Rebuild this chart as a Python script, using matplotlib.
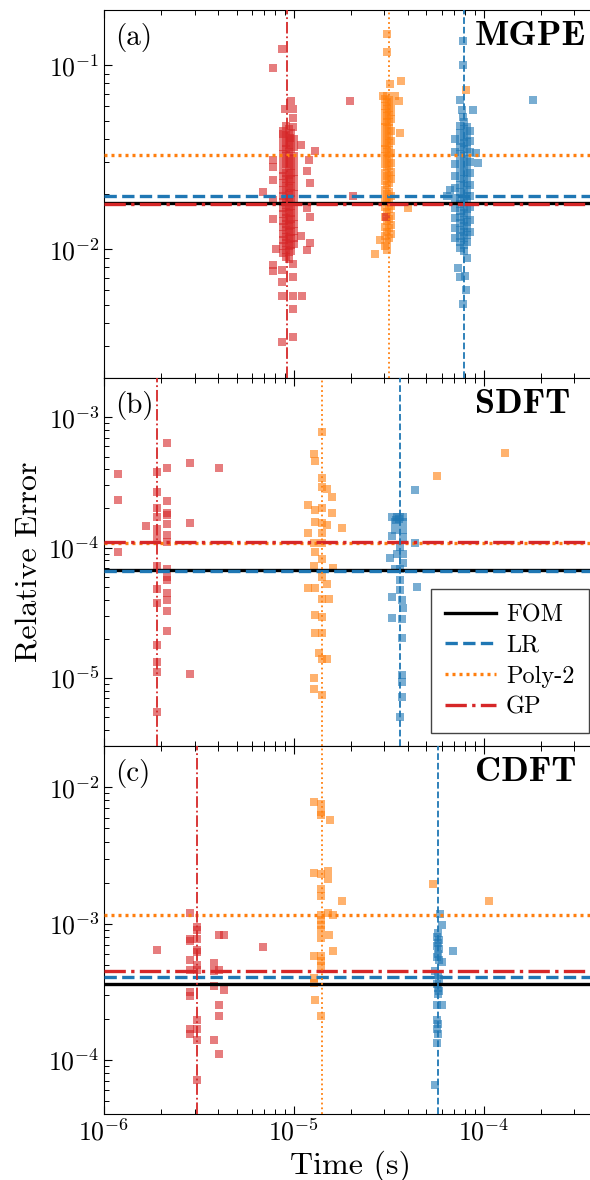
import matplotlib
matplotlib.use("Agg")
import matplotlib.pyplot as plt
from matplotlib.ticker import NullFormatter

plt.rcParams["font.family"] = ["cmr10"]
plt.rcParams["mathtext.fontset"] = "cm"
plt.rcParams["axes.formatter.use_mathtext"] = True

C_LR = "#1f77b4"
C_POLY = "#ff7f0e"
C_GP = "#d62728"

panel_tags = ["(a)", "(b)", "(c)"]
problem_names = ["MGPE", "SDFT", "CDFT"]
y_limits = [(2e-3, 2e-1), (3e-6, 2e-3), (4e-5, 2e-2)]

# Mean relative error of the full-order model per problem
fom_err = [0.0178, 6.7e-5, 3.61e-4]
# Mean query time and mean relative error of each surrogate, per problem
lr_time = [7.85e-5, 3.64e-5, 5.75e-5]
lr_err = [0.0196, 6.6e-5, 4.04e-4]
poly_time = [3.16e-5, 1.40e-5, 1.40e-5]
poly_err = [0.0325, 1.09e-4, 1.16e-3]
gp_time = [9.24e-6, 1.895e-6, 3.09e-6]
gp_err = [0.0176, 1.10e-4, 4.5e-4]

# ---- MGPE samples ----
gp_a_t = ([8.7e-6, 7.8e-6, 9.7e-6, 9.0e-6, 9.9e-6, 9.9e-6, 9.9e-6, 8.8e-6, 9.6e-6, 1.09e-5,
           1.30e-5, 1.20e-5, 7.8e-6, 7.8e-6, 1.18e-5, 7.8e-6, 1.21e-5, 6.9e-6, 7.8e-6, 1.18e-5,
           1.21e-5, 7.8e-6, 1.09e-5, 1.21e-5, 8.1e-6, 1.18e-5, 7.8e-6, 7.8e-6, 8.7e-6, 8.7e-6,
           9.9e-6, 9.9e-6, 8.7e-6, 9.9e-6, 1.11e-5, 9.9e-6, 9.9e-6, 8.7e-6, 1.98e-5, 2.06e-5,
           3.05e-5]
          + [8.8e-6] * 19 + [9.1e-6] * 20 + [9.4e-6] * 20 + [9.7e-6] * 18 + [1.0e-5] * 15)
gp_a_e = [0.123, 0.0968, 0.0643, 0.0577, 0.0577, 0.0517, 0.0461, 0.0424, 0.0403, 0.0368,
          0.0343, 0.0306, 0.0306, 0.0282, 0.0267, 0.0238, 0.0229, 0.0206, 0.0186, 0.0167,
          0.0151, 0.0146, 0.0118, 0.0109, 0.0101, 0.0099, 0.00828, 0.00764, 0.0077, 0.00667,
          0.0071, 0.0083, 0.00562, 0.00562, 0.00562, 0.00477, 0.00334, 0.00313, 0.0640, 0.0195,
          0.0151,
          0.044, 0.040, 0.036, 0.033, 0.030, 0.027, 0.025, 0.023, 0.021, 0.0195, 0.018, 0.0167,
          0.0155, 0.0143, 0.0132, 0.0122, 0.0113, 0.0104, 0.0096,
          0.047, 0.042, 0.038, 0.035, 0.032, 0.029, 0.026, 0.024, 0.022, 0.020, 0.0188, 0.0174,
          0.016, 0.0148, 0.0137, 0.0127, 0.0117, 0.0108, 0.0099, 0.0091,
          0.045, 0.041, 0.037, 0.034, 0.031, 0.028, 0.0255, 0.0235, 0.0215, 0.0198, 0.0183,
          0.017, 0.0157, 0.0145, 0.0134, 0.0124, 0.0114, 0.0105, 0.0097, 0.0089,
          0.043, 0.039, 0.035, 0.0315, 0.0285, 0.026, 0.024, 0.022, 0.0203, 0.0187, 0.0172,
          0.0158, 0.0146, 0.0135, 0.0125, 0.0115, 0.0106, 0.0098,
          0.040, 0.036, 0.032, 0.029, 0.0265, 0.024, 0.0218, 0.020, 0.0182, 0.0165, 0.015,
          0.0138, 0.0126, 0.0116, 0.0107]

poly_a_t = ([3.09e-5, 3.09e-5, 3.21e-5, 3.67e-5, 2.96e-5, 3.40e-5, 3.60e-5, 3.63e-5, 4.01e-5,
             2.85e-5, 2.68e-5, 8.05e-5]
            + [3.03e-5] * 19 + [3.11e-5] * 20 + [3.19e-5] * 18 + [3.27e-5] * 14)
poly_a_e = [0.149, 0.118, 0.0792, 0.0826, 0.0684, 0.0684, 0.0637, 0.0428, 0.0168, 0.0112,
            0.00943, 0.0738,
            0.066, 0.060, 0.055, 0.050, 0.046, 0.042, 0.038, 0.035, 0.032, 0.029, 0.026, 0.0235,
            0.021, 0.019, 0.017, 0.015, 0.0133, 0.0118, 0.0105,
            0.068, 0.063, 0.058, 0.053, 0.049, 0.045, 0.041, 0.037, 0.034, 0.031, 0.028, 0.025,
            0.0225, 0.020, 0.018, 0.016, 0.0142, 0.0125, 0.011, 0.0099,
            0.065, 0.059, 0.054, 0.0495, 0.0455, 0.0415, 0.038, 0.0345, 0.0315, 0.0285, 0.0255,
            0.023, 0.0205, 0.0185, 0.0165, 0.0147, 0.013, 0.0115,
            0.062, 0.056, 0.051, 0.044, 0.039, 0.0335, 0.0295, 0.0265, 0.024, 0.0195, 0.0172,
            0.0152, 0.0136, 0.0122]

lr_a_t = ([7.82e-5, 7.82e-5, 7.51e-5, 1.83e-4, 7.66e-5, 8.83e-5, 7.82e-5, 9.12e-5, 9.31e-5,
           6.65e-5, 6.39e-5, 8.20e-5, 7.30e-5, 7.95e-5, 7.51e-5, 8.10e-5, 7.82e-5]
          + [7.85e-5] * 20 + [7.5e-5] * 19 + [8.2e-5] * 17 + [7.1e-5] * 10 + [8.5e-5] * 10)
lr_a_e = [0.135, 0.100, 0.065, 0.065, 0.0575, 0.0575, 0.0527, 0.0333, 0.0296, 0.021, 0.0196,
          0.00904, 0.00788, 0.0072, 0.0071, 0.00605, 0.00503,
          0.049, 0.045, 0.041, 0.038, 0.035, 0.032, 0.029, 0.0265, 0.024, 0.022, 0.020, 0.0185,
          0.017, 0.0157, 0.0145, 0.0134, 0.0124, 0.0115, 0.0106, 0.0098,
          0.047, 0.043, 0.039, 0.036, 0.033, 0.030, 0.027, 0.0245, 0.0225, 0.0205, 0.019,
          0.0176, 0.0162, 0.015, 0.0139, 0.0128, 0.0118, 0.011, 0.0102,
          0.046, 0.042, 0.0385, 0.035, 0.031, 0.028, 0.0255, 0.023, 0.021, 0.0195, 0.018,
          0.0166, 0.0153, 0.0141, 0.013, 0.012, 0.011,
          0.040, 0.034, 0.029, 0.025, 0.0215, 0.019, 0.0168, 0.0148, 0.013, 0.0115,
          0.044, 0.039, 0.034, 0.030, 0.026, 0.0225, 0.0195, 0.017, 0.0145, 0.0125]

# ---- SDFT samples ----
gp_b_t = ([1.19e-6] * 3 + [1.90e-6] * 13 + [2.14e-6] * 15 + [2.84e-6] * 3
          + [4.04e-6, 1.66e-6])
gp_b_e = [3.66e-4, 2.32e-4, 9.32e-5,
          3.81e-4, 2.69e-4, 2.03e-4, 1.73e-4, 1.38e-4, 1.21e-4, 7.24e-5, 4.80e-5, 3.79e-5,
          1.79e-5, 1.33e-5, 1.12e-5, 5.45e-6,
          6.33e-4, 4.11e-4, 2.28e-4, 1.84e-4, 1.78e-4, 1.52e-4, 1.25e-4, 1.10e-4, 6.83e-5,
          5.99e-5, 5.65e-5, 4.47e-5, 4.0e-5, 3.29e-5, 2.31e-5,
          4.49e-4, 1.54e-4, 1.07e-5,
          4.09e-4, 1.47e-4]

poly_b_t = [1.40e-5, 1.27e-5, 1.29e-5, 1.30e-4, 5.66e-5, 1.40e-5, 1.40e-5, 1.49e-5, 1.58e-5,
            1.19e-5, 1.29e-5, 1.58e-5, 1.40e-5, 1.29e-5, 1.40e-5, 1.49e-5, 1.79e-5, 1.19e-5,
            1.40e-5, 1.40e-5, 1.27e-5, 1.29e-5, 1.40e-5, 1.27e-5, 1.61e-5, 1.40e-5, 1.49e-5,
            1.19e-5, 1.29e-5, 1.40e-5, 1.53e-5, 1.29e-5, 1.40e-5, 1.29e-5, 1.40e-5, 1.35e-5,
            1.49e-5, 1.40e-5, 1.27e-5, 1.27e-5, 1.40e-5]
poly_b_e = [7.77e-4, 5.24e-4, 4.63e-4, 5.36e-4, 3.55e-4, 3.41e-4, 2.91e-4, 2.80e-4, 2.46e-4,
            2.13e-4, 1.95e-4, 1.86e-4, 2.0e-4, 1.58e-4, 1.55e-4, 1.50e-4, 1.42e-4, 1.30e-4,
            1.30e-4, 1.09e-4, 1.08e-4, 9.3e-5, 8.15e-5, 7.24e-5, 6.95e-5, 5.99e-5, 5.26e-5,
            4.91e-5, 4.91e-5, 4.04e-5, 4.04e-5, 3.05e-5, 2.93e-5, 2.20e-5, 2.20e-5, 1.56e-5,
            1.40e-5, 1.40e-5, 9.95e-6, 8.19e-6, 7.41e-6]

lr_b_t = [4.35e-5, 3.30e-5, 3.50e-5, 3.63e-5, 3.78e-5, 3.41e-5, 3.78e-5, 3.41e-5, 3.78e-5,
          3.30e-5, 3.78e-5, 4.35e-5, 3.63e-5, 3.78e-5, 3.50e-5, 3.21e-5, 3.78e-5, 3.63e-5,
          3.41e-5, 3.63e-5, 4.44e-5, 3.63e-5, 3.30e-5, 3.70e-5, 3.78e-5, 3.30e-5, 3.70e-5,
          3.70e-5, 3.70e-5, 3.70e-5, 3.70e-5, 3.63e-5, 3.60e-5, 3.45e-5]
lr_b_e = [2.77e-4, 1.73e-4, 1.73e-4, 1.73e-4, 1.73e-4, 1.57e-4, 1.57e-4, 1.37e-4, 1.37e-4,
          1.23e-4, 1.20e-4, 1.08e-4, 1.02e-4, 8.95e-5, 8.95e-5, 8.3e-5, 7.59e-5, 6.85e-5,
          6.85e-5, 5.65e-5, 5.02e-5, 4.73e-5, 4.21e-5, 3.98e-5, 3.43e-5, 2.90e-5, 2.82e-5,
          2.02e-5, 1.05e-5, 9.4e-6, 7.19e-6, 5.05e-6, 1.65e-4, 1.62e-4]

# ---- CDFT samples ----
gp_c_t = [2.84e-6, 3.08e-6, 3.08e-6, 4.04e-6, 4.28e-6, 2.84e-6, 3.08e-6, 2.84e-6, 1.90e-6,
          6.86e-6, 3.08e-6, 3.08e-6, 2.84e-6, 3.81e-6, 3.08e-6, 2.84e-6, 3.08e-6, 4.04e-6,
          3.81e-6, 3.81e-6, 4.28e-6, 2.84e-6, 2.84e-6, 4.04e-6, 4.04e-6, 3.08e-6, 2.84e-6,
          3.08e-6, 2.84e-6, 3.08e-6, 3.81e-6, 4.04e-6, 3.08e-6]
gp_c_e = [1.20e-3, 9.5e-4, 9.0e-4, 8.3e-4, 8.2e-4, 7.72e-4, 7.72e-4, 7.5e-4, 6.45e-4, 6.75e-4,
          6.4e-4, 6.2e-4, 5.44e-4, 5.14e-4, 5.0e-4, 4.6e-4, 4.6e-4, 4.6e-4, 4.5e-4, 3.47e-4,
          3.28e-4, 3.17e-4, 2.93e-4, 2.55e-4, 2.09e-4, 1.98e-4, 1.69e-4, 1.69e-4, 1.54e-4,
          1.41e-4, 1.40e-4, 1.10e-4, 7.16e-5]

poly_c_t = [1.28e-5, 1.39e-5, 1.39e-5, 1.39e-5, 1.55e-5, 1.28e-5, 1.51e-5, 1.39e-5, 1.51e-5,
            1.39e-5, 1.39e-5, 1.79e-5, 1.39e-5, 1.51e-5, 1.61e-5, 1.39e-5, 1.39e-5, 1.39e-5,
            1.53e-5, 1.39e-5, 1.61e-5, 1.28e-5, 1.39e-5, 1.39e-5, 1.39e-5, 1.27e-5, 1.28e-5,
            1.30e-5, 1.39e-5, 5.43e-5, 1.07e-4]
poly_c_e = [7.76e-3, 7.6e-3, 6.64e-3, 6.3e-3, 5.73e-3, 2.37e-3, 2.42e-3, 2.3e-3, 2.14e-3,
            1.78e-3, 1.59e-3, 1.46e-3, 1.16e-3, 1.19e-3, 1.16e-3, 1.07e-3, 9.8e-4, 9.0e-4,
            8.3e-4, 7.8e-4, 6.26e-4, 5.76e-4, 5.76e-4, 5.3e-4, 4.86e-4, 3.99e-4, 3.67e-4,
            2.77e-4, 2.11e-4, 1.95e-3, 1.46e-3]

lr_c_t = [5.90e-5, 6.00e-5, 5.75e-5, 5.65e-5, 5.85e-5, 5.75e-5, 5.65e-5, 5.85e-5, 6.92e-5,
          5.75e-5, 5.65e-5, 5.85e-5, 6.00e-5, 5.55e-5, 5.75e-5, 5.85e-5, 5.65e-5, 5.75e-5,
          5.85e-5, 5.75e-5, 5.65e-5, 6.00e-5, 5.65e-5, 5.75e-5, 5.65e-5, 5.75e-5, 5.65e-5,
          5.55e-5]
lr_c_e = [1.18e-3, 9.7e-4, 8.55e-4, 8.0e-4, 7.6e-4, 7.2e-4, 6.8e-4, 6.5e-4, 6.26e-4, 6.0e-4,
          5.7e-4, 5.4e-4, 5.2e-4, 4.47e-4, 4.2e-4, 3.9e-4, 3.6e-4, 3.4e-4, 3.2e-4, 3.05e-4,
          2.55e-4, 2.55e-4, 1.98e-4, 1.85e-4, 1.7e-4, 1.55e-4, 1.34e-4, 6.59e-5]

samples = [
    [(lr_a_t, lr_a_e), (poly_a_t, poly_a_e), (gp_a_t, gp_a_e)],
    [(lr_b_t, lr_b_e), (poly_b_t, poly_b_e), (gp_b_t, gp_b_e)],
    [(lr_c_t, lr_c_e), (poly_c_t, poly_c_e), (gp_c_t, gp_c_e)],
]
colors = [C_LR, C_POLY, C_GP]

W, H = 590, 1180
fig = plt.figure(figsize=(W / 100, H / 100), dpi=100)
axes = fig.subplots(3, 1, sharex=True)
x0 = 104
ax_w = 493.9
fig.subplots_adjust(left=x0 / W, right=(x0 + ax_w) / W, top=1 - 10 / H,
                    bottom=1 - 1114.3 / H, hspace=0)

h_lw = 2.4
v_lw = 1.3
dotted_h = (0, (0.9, 1.2))
for i, ax in enumerate(axes):
    ax.set_xscale("log")
    ax.set_yscale("log")
    ax.set_xlim(1e-6, 4e-4)
    ax.set_ylim(*y_limits[i])

    for (t, e), c in zip(samples[i], colors):
        ax.scatter(t, e, marker="s", s=30, color=c, alpha=0.6, linewidths=0, zorder=1)

    ax.axhline(fom_err[i], color="black", lw=h_lw, ls="-", label="FOM", zorder=3)
    ax.axhline(lr_err[i], color=C_LR, lw=h_lw, ls="--", label="LR", zorder=3)
    ax.axhline(poly_err[i], color=C_POLY, lw=h_lw, ls=dotted_h, label="Poly-2", zorder=3)
    ax.axhline(gp_err[i], color=C_GP, lw=h_lw, ls="-.", label="GP", zorder=3)

    ax.axvline(lr_time[i], color=C_LR, lw=v_lw, ls="--", zorder=3)
    ax.axvline(poly_time[i], color=C_POLY, lw=v_lw, ls=":", zorder=3)
    ax.axvline(gp_time[i], color=C_GP, lw=v_lw, ls="-.", zorder=3)

    ax.tick_params(which="both", direction="in", top=True, right=True)
    ax.tick_params(which="major", length=6, width=0.8, labelsize=18.5, pad=3)
    ax.tick_params(which="minor", length=3.5, width=0.7)
    ax.yaxis.set_minor_formatter(NullFormatter())
    ax.xaxis.set_minor_formatter(NullFormatter())

    ax.text(0.022, 0.965, panel_tags[i], transform=ax.transAxes, ha="left", va="top",
            fontsize=21)
    ax.text(0.751, 0.970, problem_names[i], transform=ax.transAxes, ha="left", va="top",
            fontsize=26, family="cmb10")

axes[1].legend(loc="lower right", bbox_to_anchor=(0.982, 0.035), borderaxespad=0,
               fontsize=17.5, fancybox=False, edgecolor="#444444", framealpha=1,
               labelspacing=0.36, handlelength=2.1, handletextpad=0.4, borderpad=0.6)

axes[1].set_ylabel("Relative Error", fontsize=23)
axes[1].yaxis.set_label_coords(-0.125, 0.5)
axes[2].set_xlabel("Time (s)", fontsize=23, labelpad=4)

fig.savefig("out.png", dpi=100)
